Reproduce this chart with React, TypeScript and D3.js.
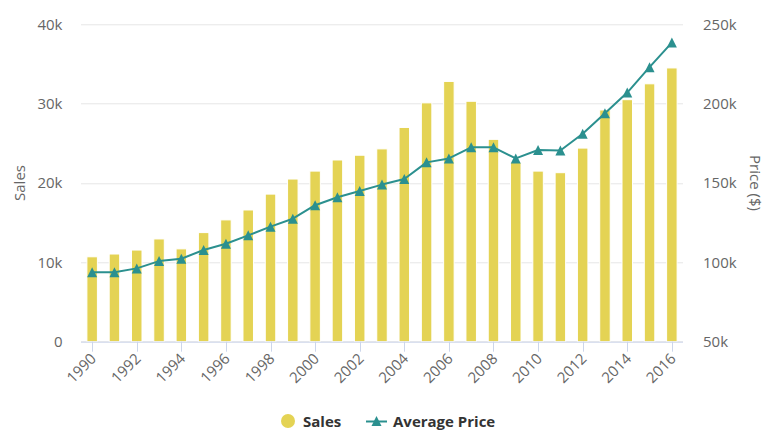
import React, { useEffect, useRef } from 'react';
import * as d3 from 'd3';

const years = d3.range(1990, 2017).map(String);

const sales = [
  10700, 11050, 11550, 12950, 11700, 13750, 15350, 16600, 18600, 20500,
  21500, 22900, 23500, 24300, 27000, 30100, 32800, 30300, 25500, 22600,
  21500, 21300, 24400, 29200, 30500, 32500, 34500
];

const avgPrice = [
  93800, 93800, 96200, 100800, 102300, 107800, 111700, 117000, 122500, 127500,
  136000, 141000, 145000, 149000, 152500, 163000, 165500, 172500, 172500, 165500,
  170800, 170500, 181000, 194000, 207000, 223000, 238500
];

const salesTicks = [0, 10000, 20000, 30000, 40000];
const priceTicks = [50000, 100000, 150000, 200000, 250000];

const FONT = '"Open Sans", "DejaVu Sans", sans-serif';
const BAR_COLOR = '#e4d354';
const LINE_COLOR = '#2b908f';

const App: React.FC = () => {
  const svgRef = useRef<SVGSVGElement>(null);
  const width = 781;
  const height = 438;

  useEffect(() => {
    if (!svgRef.current) return;
    const svg = d3.select(svgRef.current);
    svg.selectAll('*').remove();

    const margin = { top: 24.3, right: 98, bottom: 96.3, left: 81 };
    const innerWidth = width - margin.left - margin.right;
    const innerHeight = height - margin.top - margin.bottom;

    const x = d3.scaleBand().domain(years).range([0, innerWidth]);
    const ySales = d3.scaleLinear().domain([0, 40000]).range([innerHeight, 0]);
    const yPrice = d3.scaleLinear().domain([50000, 250000]).range([innerHeight, 0]);
    const fmt = (v: number) => (v === 0 ? '0' : `${v / 1000}k`);

    const g = svg.append('g')
      .attr('transform', `translate(${margin.left},${margin.top})`);

    // gridlines
    g.selectAll('line.grid')
      .data(salesTicks)
      .enter()
      .append('line')
      .attr('x1', 0)
      .attr('x2', innerWidth)
      .attr('y1', d => Math.round(ySales(d)) + 0.5)
      .attr('y2', d => Math.round(ySales(d)) + 0.5)
      .attr('stroke', '#e6e6e6')
      .attr('stroke-width', 1);

    // left axis labels
    g.selectAll('text.ysales')
      .data(salesTicks)
      .enter()
      .append('text')
      .attr('x', -18.5)
      .attr('y', d => ySales(d) + 5.5)
      .attr('text-anchor', 'end')
      .attr('font-family', FONT)
      .attr('font-size', 15)
      .attr('fill', '#666666')
      .text(fmt);

    // right axis labels
    g.selectAll('text.yprice')
      .data(priceTicks)
      .enter()
      .append('text')
      .attr('x', innerWidth + 20)
      .attr('y', d => yPrice(d) + 5.5)
      .attr('text-anchor', 'start')
      .attr('font-family', FONT)
      .attr('font-size', 15)
      .attr('fill', '#666666')
      .text(fmt);

    // axis titles
    g.append('text')
      .attr('transform', `translate(${-56.5},${innerHeight / 2}) rotate(-90)`)
      .attr('text-anchor', 'middle')
      .attr('font-family', FONT)
      .attr('font-size', 15)
      .attr('fill', '#666666')
      .text('Sales');

    g.append('text')
      .attr('transform', `translate(${innerWidth + 66.5},${innerHeight / 2}) rotate(90)`)
      .attr('text-anchor', 'middle')
      .attr('font-family', FONT)
      .attr('font-size', 15)
      .attr('fill', '#666666')
      .text('Price ($)');

    // bars
    const barW = 10.5;
    g.selectAll('rect.bar')
      .data(sales)
      .enter()
      .append('rect')
      .attr('x', (d, i) => x(years[i])! + x.bandwidth() / 2 - barW / 2)
      .attr('y', d => ySales(d))
      .attr('width', barW)
      .attr('height', d => innerHeight - ySales(d))
      .attr('fill', BAR_COLOR)
      .attr('stroke', '#ffffff')
      .attr('stroke-width', 1);

    // x axis line and ticks
    g.append('line')
      .attr('x1', 0)
      .attr('x2', innerWidth)
      .attr('y1', innerHeight + 0.5)
      .attr('y2', innerHeight + 0.5)
      .attr('stroke', '#ccd6eb');

    const tickYears = years.filter((d, i) => i % 2 === 0);
    g.selectAll('line.xtick')
      .data(tickYears)
      .enter()
      .append('line')
      .attr('x1', d => Math.round(x(d)! + x.bandwidth() / 2) + 0.5)
      .attr('x2', d => Math.round(x(d)! + x.bandwidth() / 2) + 0.5)
      .attr('y1', innerHeight)
      .attr('y2', innerHeight + 10)
      .attr('stroke', '#ccd6eb');

    g.selectAll('text.xlabel')
      .data(tickYears)
      .enter()
      .append('text')
      .attr('transform', d => `translate(${x(d)! + x.bandwidth() / 2 + 5},${innerHeight + 18}) rotate(-45)`)
      .attr('text-anchor', 'end')
      .attr('font-family', FONT)
      .attr('font-size', 15)
      .attr('fill', '#666666')
      .text(d => d);

    // price line
    const line = d3.line<number>()
      .x((d, i) => x(years[i])! + x.bandwidth() / 2)
      .y(d => yPrice(d));

    g.append('path')
      .datum(avgPrice)
      .attr('d', line)
      .attr('fill', 'none')
      .attr('stroke', LINE_COLOR)
      .attr('stroke-width', 2)
      .attr('stroke-linejoin', 'round');

    const r = 5;
    const tri = (cx: number, cy: number) =>
      `M${cx},${cy - r}L${cx + r},${cy + r}L${cx - r},${cy + r}Z`;

    g.selectAll('path.marker')
      .data(avgPrice)
      .enter()
      .append('path')
      .attr('d', (d, i) => tri(x(years[i])! + x.bandwidth() / 2, yPrice(d)))
      .attr('fill', LINE_COLOR);

    // legend
    const legend = svg.append('g').attr('transform', 'translate(0,421)');
    legend.append('circle')
      .attr('cx', 288)
      .attr('cy', 0)
      .attr('r', 7)
      .attr('fill', BAR_COLOR);
    legend.append('text')
      .attr('x', 303)
      .attr('y', 5.5)
      .attr('font-family', FONT)
      .attr('font-size', 15)
      .attr('font-weight', 'bold')
      .attr('fill', '#333333')
      .text('Sales');

    legend.append('line')
      .attr('x1', 366)
      .attr('x2', 387)
      .attr('y1', 0.5)
      .attr('y2', 0.5)
      .attr('stroke', LINE_COLOR)
      .attr('stroke-width', 2);
    legend.append('path')
      .attr('d', tri(376.5, 0))
      .attr('fill', LINE_COLOR);
    legend.append('text')
      .attr('x', 393)
      .attr('y', 5.5)
      .attr('font-family', FONT)
      .attr('font-size', 15)
      .attr('font-weight', 'bold')
      .attr('fill', '#333333')
      .text('Average Price');
  }, []);

  return (
    <svg
      ref={svgRef}
      width={width}
      height={height}
      style={{ position: 'absolute', left: 0, top: 0, background: '#ffffff' }}
    />
  );
};

export default App;
